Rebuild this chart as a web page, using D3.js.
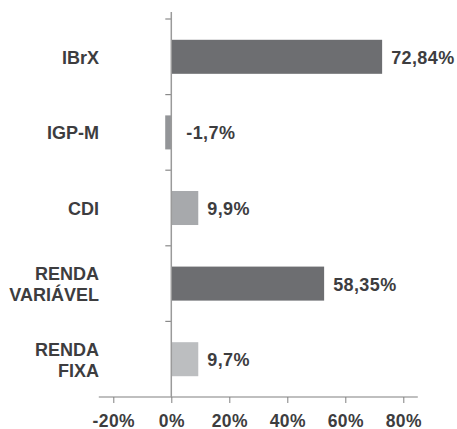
<!DOCTYPE html>
<html>
<head>
<meta charset="utf-8">
<script src="https://cdn.jsdelivr.net/npm/d3@7"></script>
<style>
  body { margin: 0; background: #fff; }
  text { font-family: "Liberation Sans", Arial, Helvetica, sans-serif; font-weight: bold; fill: #3d3d3f; }
</style>
</head>
<body>
<div id="chart"></div>
<script>
// Data
var categories = [["IBrX"], ["IGP-M"], ["CDI"], ["RENDA", "VARIÁVEL"], ["RENDA", "FIXA"]];
var barValues = [72.7, -2.1, 9.3, 52.7, 9.3];           // bar lengths as drawn
var valueLabels = ["72,84%", "-1,7%", "9,9%", "58,35%", "9,7%"]; // printed labels
var barColors = ["#6d6e71", "#939598", "#a7a9ac", "#6d6e71", "#bcbec0"];
var xTicks = [-20, 0, 20, 40, 60, 80];

var width = 457, height = 429;

var svg = d3.select("#chart").append("svg")
  .attr("width", width)
  .attr("height", height);

var x = d3.scaleLinear().domain([-20, 80]).range([113.3, 403.3]);
var idx = d3.range(categories.length);
var y = d3.scaleBand().domain(idx).range([19, 397]).paddingInner(0.55).paddingOuter(0.275);

// bars
svg.append("g").selectAll("rect")
  .data(idx)
  .join("rect")
  .attr("x", function(i){ return x(Math.min(0, barValues[i])); })
  .attr("y", function(i){ return y(i); })
  .attr("width", function(i){ return Math.abs(x(barValues[i]) - x(0)); })
  .attr("height", y.bandwidth())
  .attr("fill", function(i){ return barColors[i]; });

// value labels
svg.append("g").selectAll("text")
  .data(idx)
  .join("text")
  .attr("x", function(i){ return barValues[i] < 0 ? x(0) + 15 : x(barValues[i]) + 9; })
  .attr("y", function(i){ return y(i) + y.bandwidth() / 2 + 1; })
  .attr("dominant-baseline", "central")
  .attr("font-size", 18)
  .attr("letter-spacing", 0.4)
  .text(function(i){ return valueLabels[i]; });

// category labels
var cat = svg.append("g").selectAll("text")
  .data(idx)
  .join("text")
  .attr("text-anchor", "end")
  .attr("font-size", 18)
  .attr("x", 99)
  .attr("y", function(i){ return y(i) + y.bandwidth() / 2 + 1; });

cat.each(function(i){
  var lines = categories[i];
  var lh = 21;
  d3.select(this).selectAll("tspan")
    .data(lines)
    .join("tspan")
    .attr("x", 99)
    .attr("dy", function(d, k){ return k === 0 ? (-(lines.length - 1) * lh / 2) : lh; })
    .attr("dominant-baseline", "central")
    .text(function(d){ return d; });
});

// x axis
var xAxis = svg.append("g")
  .attr("transform", "translate(0,397)")
  .call(d3.axisBottom(x).tickValues(xTicks).tickSize(6).tickPadding(12)
    .tickFormat(function(d){ return d + "%"; }));
xAxis.select(".domain").remove();
xAxis.selectAll(".tick line").attr("stroke", "#808080");
xAxis.selectAll(".tick text")
  .attr("font-size", 17.5)
  .attr("letter-spacing", 0.4)
  .attr("font-family", null)
  .attr("fill", null);
xAxis.append("line")
  .attr("x1", x(-25)).attr("x2", x(85))
  .attr("stroke", "#808080").attr("stroke-width", 1.2);

// y axis at zero
var step = y.step();
var gap = (step - y.bandwidth()) / 2;
svg.append("g").selectAll("line")
  .data(idx)
  .join("line")
  .attr("x1", x(0) - 6).attr("x2", x(0))
  .attr("y1", function(i){ return y(i) - gap; })
  .attr("y2", function(i){ return y(i) - gap; })
  .attr("stroke", "#8a8a8a").attr("stroke-width", 1.2);
svg.append("line")
  .attr("x1", x(0)).attr("x2", x(0))
  .attr("y1", 12).attr("y2", 397)
  .attr("stroke", "#9a9a9a").attr("stroke-width", 1.5);
</script>
</body>
</html>
